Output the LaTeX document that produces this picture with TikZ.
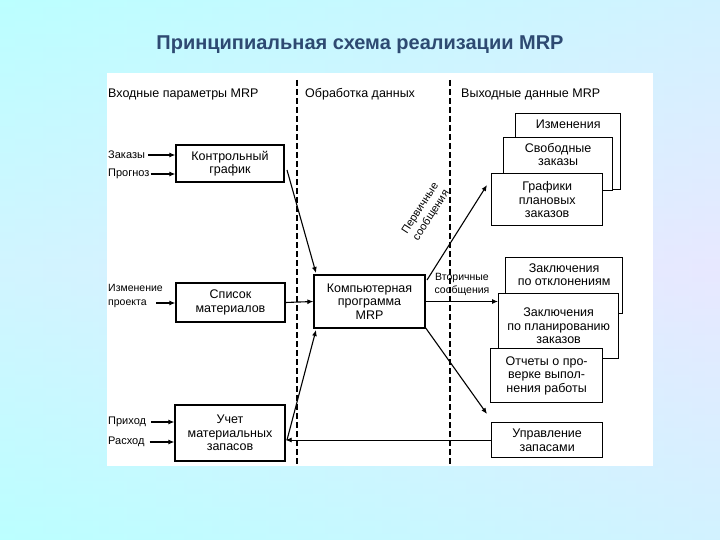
\documentclass[tikz,border=0pt]{standalone}
\usepackage{fontspec}
\setmainfont{Liberation Sans}
\usetikzlibrary{arrows.meta}
\definecolor{titlec}{HTML}{2E4A72}
\begin{document}
\begin{tikzpicture}[x=1pt,y=-1pt,
  box/.style={draw,line width=1.3pt,fill=white,align=center,font=\fontsize{12.5}{13.5}\selectfont,inner sep=1pt},
  lab/.style={font=\fontsize{11}{12}\selectfont,inner sep=1pt},
  hd/.style={font=\fontsize{12.5}{13}\selectfont,inner sep=0pt,anchor=base west},
  arr/.style={-{Latex[length=6pt,width=5pt]},line width=1.1pt},
  sep/.style={line width=1.5pt,dash pattern=on 6pt off 3pt}]
\useasboundingbox (0,0) rectangle (720,540);
\shade[left color=cyan!28!white,right color=blue!10!white] (0,0) rectangle (720,540);
\shade[top color=cyan!25!white,bottom color=cyan!25!white,middle color=blue!8!white,opacity=0.5] (0,0) rectangle (720,540);
\fill[white] (107,73) rectangle (653,466);
\node[font=\bfseries\fontsize{20}{22}\selectfont,text=titlec] (title) at (360,45) {Принципиальная схема реализации MRP};
% headers
\node[hd] (h1) at (108,98) {Входные параметры MRP};
\node[hd] (h2) at (305,98) {Обработка данных};
\node[hd] (h3) at (461,98) {Выходные данные MRP};
\coordinate (d1t) at (297,80); \coordinate (d1b) at (297,466);
\coordinate (d2t) at (450,80); \coordinate (d2b) at (450,466);
\draw[sep] (d1t) -- (d1b);
\draw[sep] (d2t) -- (d2b);
% input boxes
\node[box,minimum width=108pt,minimum height=37pt] (kg) at (230,163.5) {Контрольный\\график};
\node[box,minimum width=109pt,minimum height=39pt] (sm) at (230.5,302.5) {Список\\материалов};
\node[box,minimum width=110pt,minimum height=56pt] (um) at (230,433) {Учет\\материальных\\запасов};
\node[box,minimum width=111pt,minimum height=53pt] (mrp) at (369.5,301.5) {Компьютерная\\программа\\MRP};
% input labels
\node[lab,anchor=west] (z1) at (107,155) {Заказы};
\node[lab,anchor=west] (z2) at (107,174) {Прогноз};
\node[lab,anchor=west,align=left,font=\fontsize{10.5}{14}\selectfont] (z3) at (107,296) {Изменение\\проекта};
\node[lab,anchor=west] (z4) at (107,422) {Приход};
\node[lab,anchor=west] (z5) at (107,442) {Расход};
\draw[arr] (z1.east) ++(2,0) -- (kg.west|-z1);
\draw[arr] (z2.east) -- (kg.west|-z2);
\coordinate (z3e) at (156,303);
\draw[arr] (z3e) -- (sm.west|-z3e);
\draw[arr] (z4.east) ++(4,0) -- (um.west|-z4);
\draw[arr] (z5.east) ++(4,0) -- (um.west|-z5);
% to MRP
\coordinate (a1) at (287,170); \coordinate (a1e) at (316,273);
\draw[arr] (a1) -- (a1e);
\draw[arr] (sm.east) -- (mrp.west);
\coordinate (a3) at (287,440); \coordinate (a3e) at (316,330);
\draw[arr] (a3) -- (a3e);
% output boxes
\node[box,minimum width=105pt,minimum height=76pt,anchor=north west,text depth=54pt] (izm) at (515,113) {Изменения};
\node[box,minimum width=109pt,minimum height=53pt,anchor=north west,text depth=19pt] (svz) at (503,137) {Свободные\\заказы};
\node[box,minimum width=111pt,minimum height=52pt,anchor=north west] (gpz) at (491,173) {Графики\\плановых\\заказов};
\node[box,minimum width=117pt,minimum height=56pt,anchor=north west,text depth=22pt] (zo) at (505,257) {Заключения\\по отклонениям};
\node[box,minimum width=120pt,minimum height=65pt,anchor=north west] (zp) at (498,293) {Заключения\\по планированию\\заказов};
\node[box,minimum width=112pt,minimum height=54pt,anchor=north west] (ot) at (490,348) {Отчеты о про-\\верке выпол-\\нения работы};
\node[box,minimum width=111pt,minimum height=35pt,anchor=north west] (uz) at (491,422) {Управление\\запасами};
% outgoing
\coordinate (o1) at (427,280); \coordinate (o1e) at (487,185);
\draw[arr] (o1) -- (o1e);
\node[lab,rotate=57,align=center,font=\fontsize{11}{13}\selectfont] (pm) at (426,212) {Первичные\\сообщения};
\draw[arr] (mrp.east) -- (zp.west|-mrp.east);
\node[lab,align=center,font=\fontsize{10.5}{13}\selectfont] (vm) at (462,284) {Вторичные\\сообщения};
\coordinate (o3) at (425,327); \coordinate (o3e) at (487,414);
\draw[arr] (o3) -- (o3e);
\draw[-{Latex[length=6pt,width=5pt]},line width=0.8pt] (uz.west|-um.east) ++(0,7) coordinate (rs) -- (um.east|-rs);
\end{tikzpicture}
\end{document}
